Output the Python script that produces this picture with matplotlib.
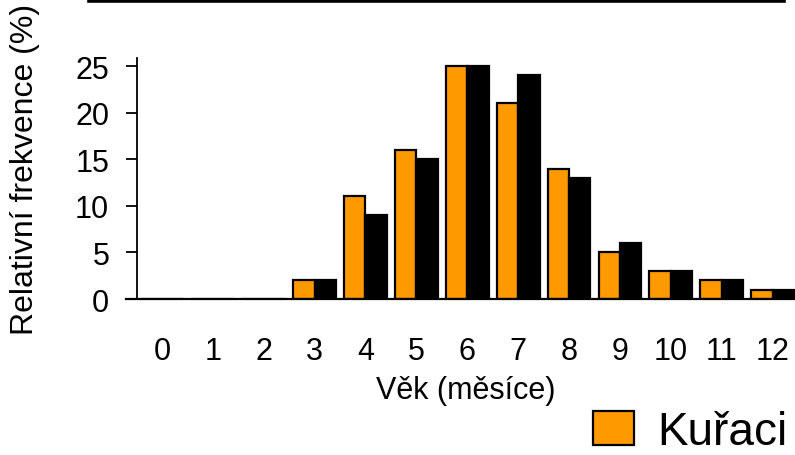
import matplotlib
matplotlib.use("Agg")
import matplotlib.pyplot as plt
from matplotlib.lines import Line2D
import numpy as np

plt.rcParams['font.family'] = ['Liberation Sans', 'DejaVu Sans']

ages = [0, 1, 2, 3, 4, 5, 6, 7, 8, 9, 10, 11, 12]
smokers = [0, 0, 0, 2, 11, 16, 25, 21, 14, 5, 3, 2, 1]
nonsmokers = [0, 0, 0, 2, 9, 15, 25, 24, 13, 6, 3, 2, 1]
yticks = [0, 5, 10, 15, 20, 25]
xlabel = "Věk (měsíce)"
ylabel = "Relativní frekvence (%)"
legend_label = "Kuřaci"

W, H = 795, 456
fig = plt.figure(figsize=(W / 100, H / 100), dpi=100)
ax = fig.add_axes([137 / W, 1 - 300 / H, (W - 137) / W, (300 - 59) / H])

x = np.arange(len(ages))
bw = 0.42
ax.bar(x - bw / 2, smokers, width=bw, color='#FF9900', edgecolor='black',
       linewidth=1.6, label=legend_label)
ax.bar(x + bw / 2, nonsmokers, width=bw, color='black', edgecolor='black',
       linewidth=1.6)

ax.set_xlim(-0.49, 12.44)
ax.set_ylim(0, 25.86)
ax.set_yticks(yticks)
ax.set_xticks(x)
ax.set_xticklabels([str(a) for a in ages])

for s in ['top', 'right', 'bottom']:
    ax.spines[s].set_visible(False)
ax.spines['left'].set_linewidth(1.3)
ax.tick_params(axis='y', direction='out', length=8, width=1.3, pad=12,
               labelsize=22)
ax.tick_params(axis='x', length=0, pad=27, labelsize=22)

# x-axis line extending slightly left of the y-axis
ax.add_line(Line2D([-11 / 658, 1], [0, 0], transform=ax.transAxes,
                   color='black', linewidth=1.6, clip_on=False))

ax.set_xlabel(xlabel, fontsize=22, labelpad=6)
ax.set_ylabel(ylabel, fontsize=23)
ax.yaxis.set_label_coords(-0.148, 0.54)

# top rule
fig.add_artist(Line2D([89 / W, 784 / W], [1 - 1.5 / H, 1 - 1.5 / H],
                      transform=fig.transFigure, color='black', linewidth=2.6))

leg = fig.legend(loc='center left', bbox_to_anchor=(593 / W, 1 - 433 / H),
                 bbox_transform=fig.transFigure, frameon=False, fontsize=33,
                 handlelength=0.9, handleheight=0.75, handletextpad=0.5,
                 borderpad=0, borderaxespad=0)

fig.savefig("out.png", dpi=100)
